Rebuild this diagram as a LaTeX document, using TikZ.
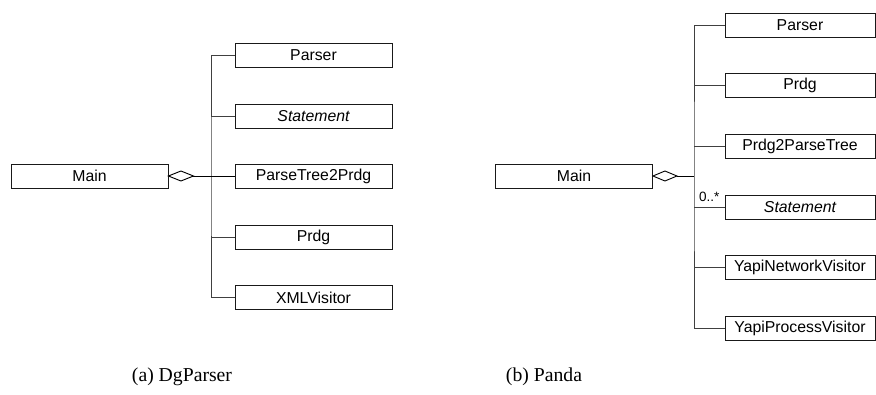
\documentclass[tikz,border=0pt]{standalone}
\usepackage{fontspec}
\usetikzlibrary{calc}
\setmainfont{Liberation Serif}
\newfontfamily\arialf{Liberation Sans}
\begin{document}
\begin{tikzpicture}[x=1pt,y=-1pt,
  cls/.style={draw=black!90,line width=0.9pt,minimum height=24pt,inner sep=0pt,
    font=\arialf\fontsize{15.8}{18}\selectfont},
  clsL/.style={cls,minimum width=157pt},
  clsR/.style={cls,minimum width=150pt},
  mainbox/.style={cls,minimum width=157pt},
  bus/.style={draw=black!75,line width=0.9pt},
  assoc/.style={draw=black,line width=0.9pt},
  agg/.style={draw=black,line width=0.9pt,fill=white},
  captxt/.style={font=\fontsize{19.7}{22}\selectfont,anchor=base}]
\useasboundingbox (0,0) rectangle (876,394);

% ---- (a) DgParser ----
\node[mainbox] (ma) at (89.5,176) {Main};
\node[clsL] (a1) at (313.5,55) {Parser};
\node[clsL] (a2) at (313.5,116) {\itshape Statement};
\node[clsL] (a3) at (313.5,176) {ParseTree2Prdg};
\node[clsL] (a4) at (313.5,237) {Prdg};
\node[clsL] (a5) at (313.5,297.5) {XMLVisitor};
\coordinate (ja) at (211,176);
\coordinate (da) at ($(ma.east)+(25,0)$);
\draw[bus] (a1.west) -| (211,176) |- (a5.west);
\draw[bus] (a2.west) -- (a2.west -| ja);
\draw[bus] (a4.west) -- (a4.west -| ja);
\draw[assoc] (da) -- (a3.west);
\draw[agg] (ma.east) -- ++(12.5,-5) -- (da) -- ++(-12.5,5) -- cycle;

% ---- (b) Panda ----
\node[mainbox] (mb) at (574,176) {Main};
\node[clsR] (b1) at (800,25) {Parser};
\node[clsR] (b2) at (800,85.5) {Prdg};
\node[clsR] (b3) at (800,146) {Prdg2ParseTree};
\node[clsR] (b4) at (800,207) {\itshape Statement};
\node[clsR] (b5) at (800,267) {YapiNetworkVisitor};
\node[clsR] (b6) at (800,328) {YapiProcessVisitor};
\coordinate (jb) at (694,176);
\coordinate (db) at ($(mb.east)+(24,0)$);
\draw[bus] (b1.west) -| (694,176) |- (b6.west);
\draw[bus] (b2.west) -- (b2.west -| jb);
\draw[bus] (b3.west) -- (b3.west -| jb);
\draw[bus] (b4.west) -- (b4.west -| jb);
\draw[bus] (b5.west) -- (b5.west -| jb);
\draw[assoc] (db) -- (jb);
\draw[agg] (mb.east) -- ++(12,-5) -- (db) -- ++(-12,5) -- cycle;
\node[font=\arialf\fontsize{13.5}{15}\selectfont,anchor=south west,inner sep=0pt]
  (mult) at (699,202) {0..*};

% ---- captions ----
\node[captxt] (capa) at (182,381) {(a) DgParser};
\node[captxt] (capb) at (544,381) {(b) Panda};
\end{tikzpicture}
\end{document}
